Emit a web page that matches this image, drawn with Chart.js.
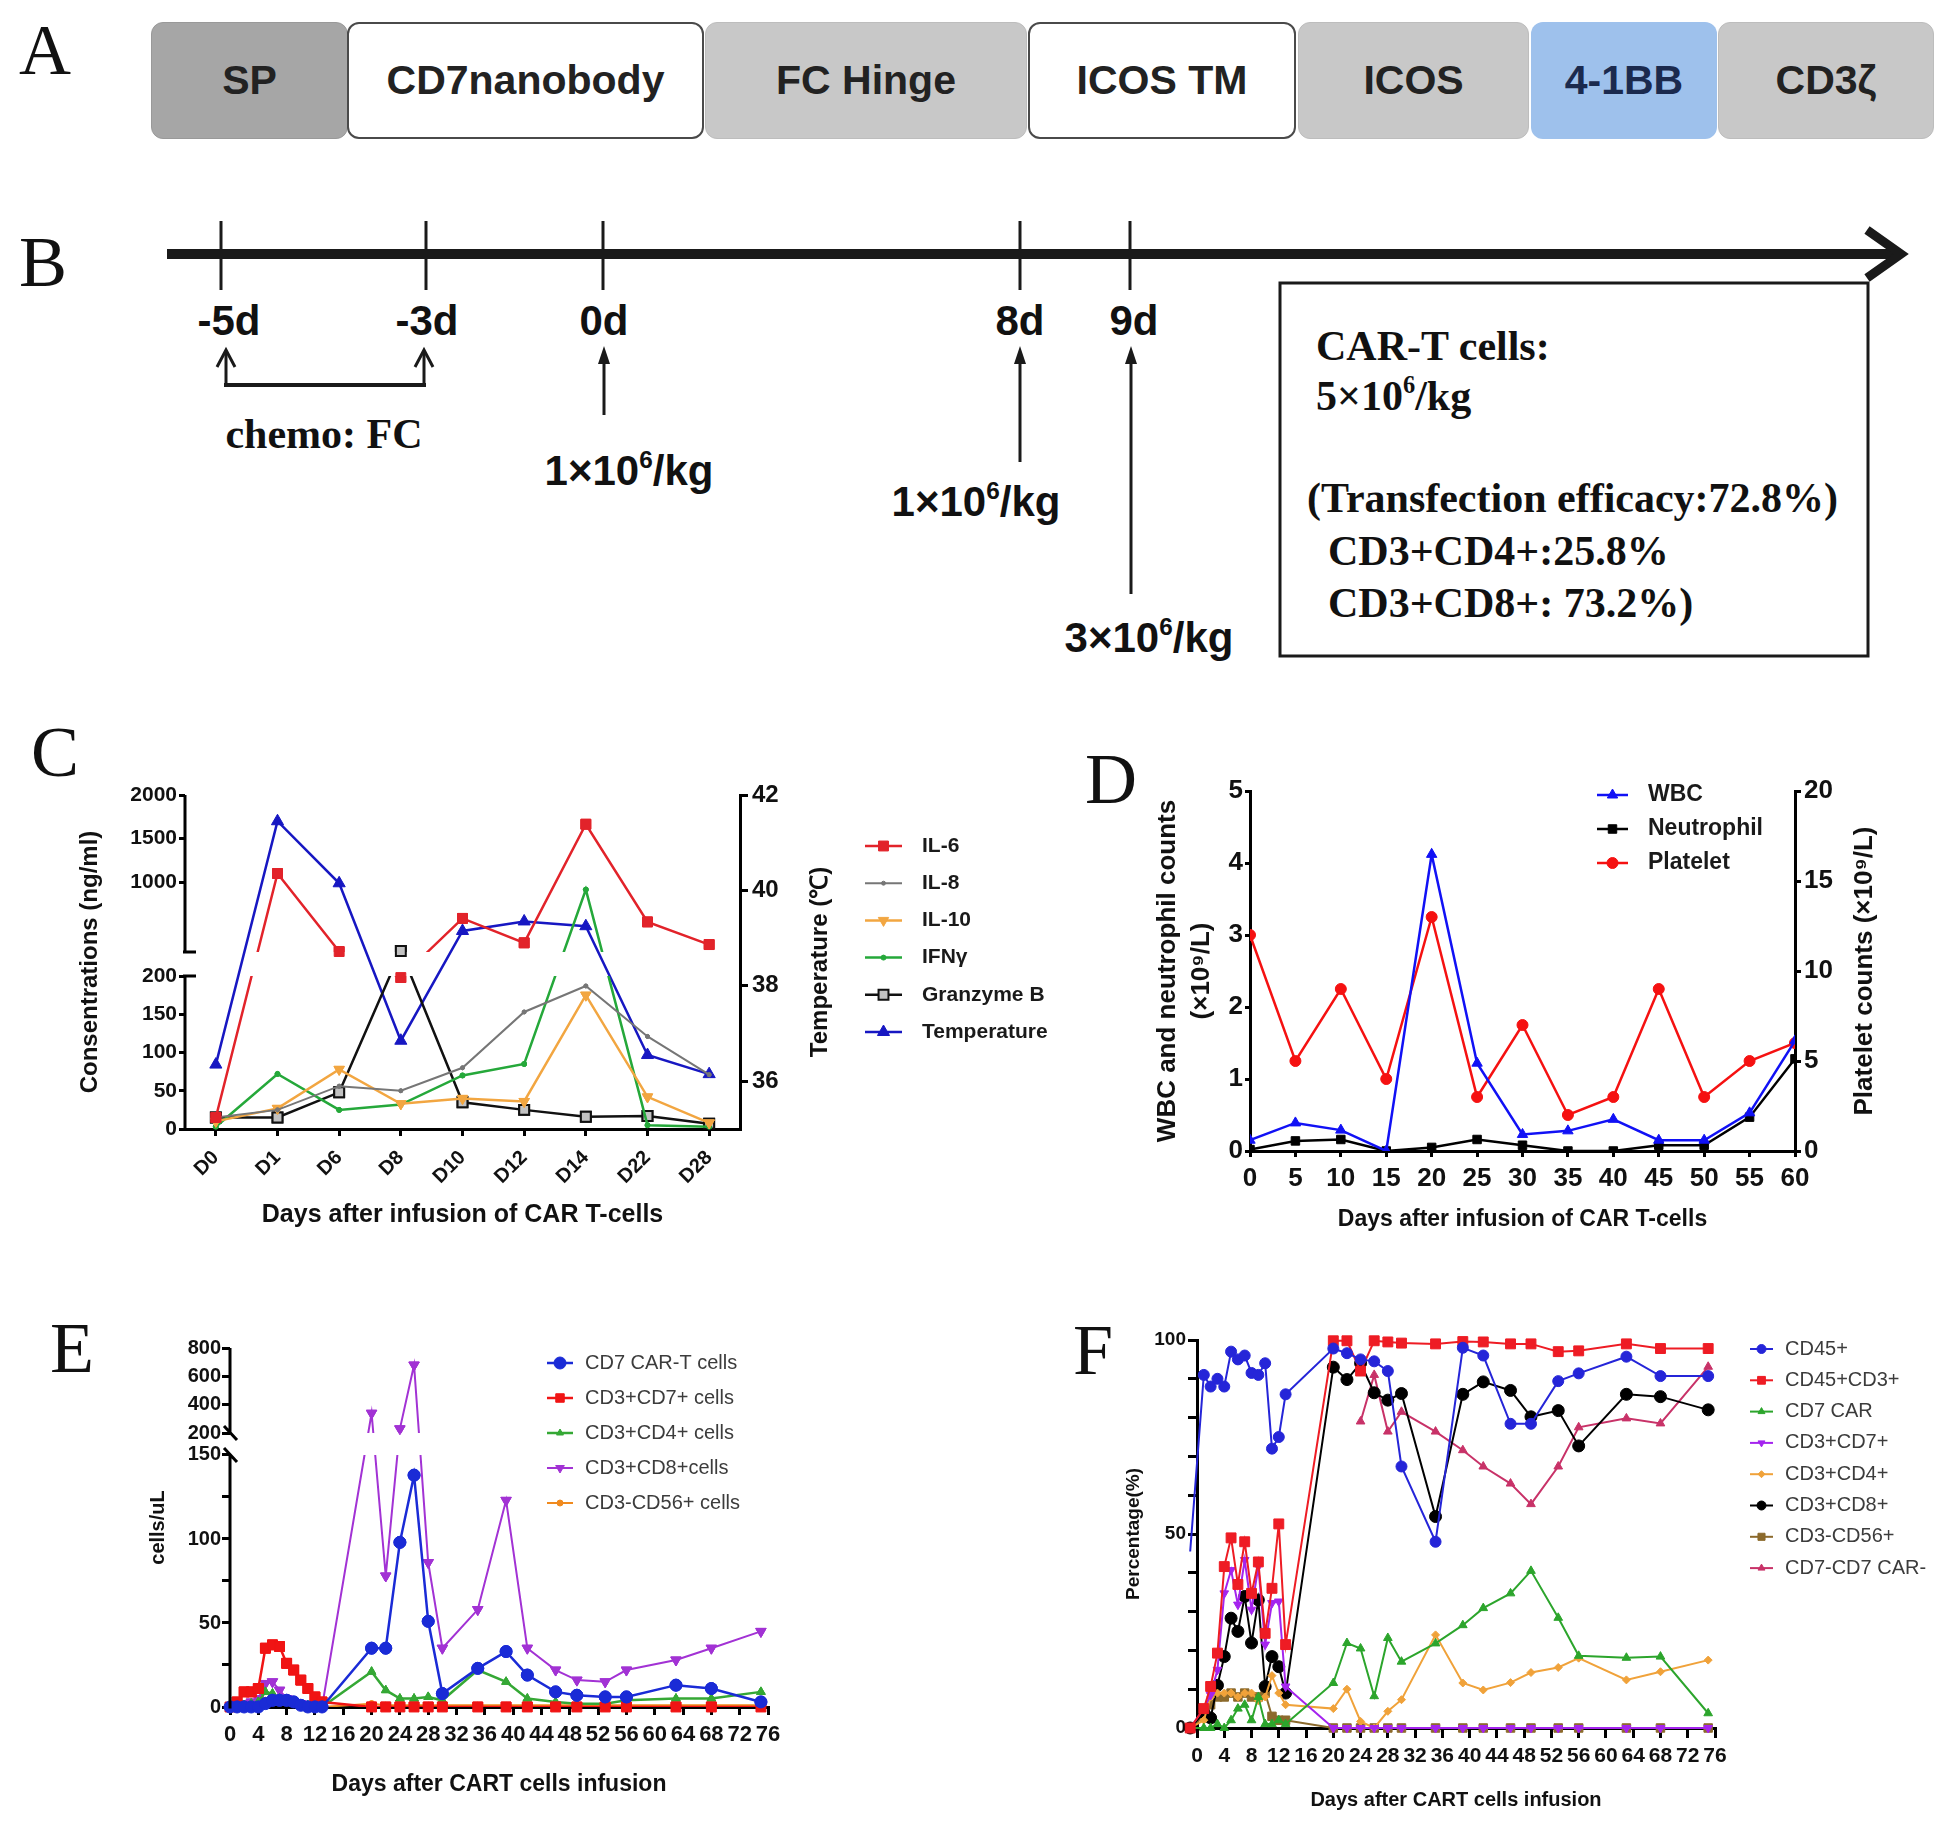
<!DOCTYPE html>
<html>
<head>
<meta charset="utf-8">
<script src="https://cdn.jsdelivr.net/npm/chart.js@4.4.1/dist/chart.umd.min.js"></script>
<style>
  html, body { margin: 0; padding: 0; background: #fff; }
  body { width: 1944px; height: 1825px; position: relative; overflow: hidden;
         font-family: "Liberation Sans", Arial, sans-serif; color: #111; }
  canvas { position: absolute; }
  .letter { position: absolute; font-family: "Liberation Serif", "Times New Roman", serif;
            font-size: 72px; line-height: 1; color: #111; }
  .blk { position: absolute; top: 22px; height: 117px; border-radius: 12px; box-sizing: border-box;
         display: flex; align-items: center; justify-content: center;
         font-weight: bold; font-size: 41px; color: #222; }
  .gray { background: #c8c8c8; border: 1px solid #bdbdbd; }
  .white { background: #fff; border: 2px solid #4a4a4a; }
  .t { position: absolute; transform: translate(-50%, -50%); white-space: nowrap; line-height: 1;
       font-weight: bold; font-size: 42px; }
  .s { position: absolute; transform: translateY(-50%); white-space: nowrap; line-height: 1;
       font-family: "Liberation Serif", "Times New Roman", serif; font-weight: bold; font-size: 42px; }
  .serif { font-family: "Liberation Serif", "Times New Roman", serif; }
  sup { font-size: 58%; position: relative; top: -0.1em; vertical-align: top; }
</style>
</head>
<body>

<!-- A: construct -->
<div class="letter" style="left:19px;top:14px">A</div>
<div class="blk" style="left:151px;width:197px;background:#a6a6a6;border:1px solid #999">SP</div>
<div class="blk white" style="left:347px;width:357px">CD7nanobody</div>
<div class="blk gray" style="left:705px;width:322px">FC Hinge</div>
<div class="blk white" style="left:1028px;width:268px">ICOS TM</div>
<div class="blk gray" style="left:1298px;width:231px">ICOS</div>
<div class="blk" style="left:1531px;width:186px;background:#9ec1ec;color:#1b2a4e">4-1BB</div>
<div class="blk gray" style="left:1718px;width:216px">CD3ζ</div>

<!-- B: timeline -->
<div class="letter" style="left:19px;top:226px">B</div>
<svg style="position:absolute;left:0;top:0" width="1944" height="700">
  <g stroke="#1a1a1a" fill="none">
    <line x1="167" y1="254" x2="1896" y2="254" stroke-width="10"/>
    <polyline points="1867,230 1901,254 1867,278" stroke-width="9"/>
    <g stroke-width="3">
      <line x1="221" y1="221" x2="221" y2="290"/>
      <line x1="426" y1="221" x2="426" y2="290"/>
      <line x1="603" y1="221" x2="603" y2="290"/>
      <line x1="1020" y1="221" x2="1020" y2="290"/>
      <line x1="1130" y1="221" x2="1130" y2="290"/>
      <line x1="226" y1="386" x2="226" y2="351"/>
      <polyline points="217,367 226,350 235,367"/>
      <line x1="424" y1="386" x2="424" y2="351"/>
      <polyline points="415,367 424,350 433,367"/>
      <line x1="604" y1="415" x2="604" y2="356"/>
      <line x1="1020" y1="462" x2="1020" y2="356"/>
      <line x1="1131" y1="594" x2="1131" y2="356"/>
    </g>
    <line x1="224" y1="385" x2="426" y2="385" stroke-width="4"/>
    <rect x="1280" y="283" width="588" height="373" stroke-width="3"/>
  </g>
  <g fill="#1a1a1a">
    <polygon points="598,364 604,346 610,364"/>
    <polygon points="1014,364 1020,346 1026,364"/>
    <polygon points="1125,364 1131,346 1137,364"/>
  </g>
</svg>
<div class="t" style="left:229px;top:321px">-5d</div>
<div class="t" style="left:427px;top:321px">-3d</div>
<div class="t" style="left:604px;top:321px">0d</div>
<div class="t" style="left:1020px;top:321px">8d</div>
<div class="t" style="left:1134px;top:321px">9d</div>
<div class="t serif" style="left:324px;top:434px">chemo: FC</div>
<div class="t" style="left:629px;top:471px">1×10<sup>6</sup>/kg</div>
<div class="t" style="left:976px;top:502px">1×10<sup>6</sup>/kg</div>
<div class="t" style="left:1149px;top:638px">3×10<sup>6</sup>/kg</div>
<div class="s" style="left:1316px;top:346px">CAR-T cells:</div>
<div class="s" style="left:1316px;top:396px">5×10<sup>6</sup>/kg</div>
<div class="s" style="left:1307px;top:498px">(Transfection efficacy:72.8%)</div>
<div class="s" style="left:1328px;top:551px">CD3+CD4+:25.8%</div>
<div class="s" style="left:1328px;top:603px">CD3+CD8+: 73.2%)</div>

<div class="letter" style="left:31px;top:716px">C</div>
<div class="letter" style="left:1085px;top:743px">D</div>
<div class="letter" style="left:50px;top:1312px">E</div>
<div class="letter" style="left:1073px;top:1314px">F</div>

<canvas id="chartC" width="1110" height="540" style="left:0px;top:720px"></canvas>
<canvas id="chartD" width="874" height="540" style="left:1070px;top:720px"></canvas>
<canvas id="chartE" width="1000" height="535" style="left:0px;top:1290px"></canvas>
<canvas id="chartF" width="904" height="535" style="left:1040px;top:1290px"></canvas>

<script>
// ---------- C: cytokines and temperature ----------
const cDays = ['D0', 'D1', 'D6', 'D8', 'D10', 'D12', 'D14', 'D22', 'D28'];
const cIL6 = [15, 1100, 205, 198, 585, 305, 1665, 545, 285];
const cIL8 = [15, 25, 56, 50, 80, 153, 187, 121, 71];
const cIL10 = [10, 27, 78, 33, 40, 36, 175, 42, 8];
const cIFNg = [3, 72, 25, 32, 70, 85, 915, 5, 3];
const cGzmB = [15, 15, 48, 212, 35, 25, 16, 17, 7];
const cTemp = [36.35, 41.45, 40.15, 36.85, 39.15, 39.35, 39.25, 36.55, 36.15];
const cLeftTicks = [0, 50, 100, 150, 200, 1000, 1500, 2000];
const cRightTicks = [36, 38, 40, 42];

// ---------- D: blood counts ----------
const dDays = [0, 5, 10, 15, 20, 25, 30, 35, 40, 45, 50, 55, 60];
const dWBC = [0.15, 0.39, 0.29, 0.0, 4.12, 1.22, 0.23, 0.28, 0.44, 0.15, 0.15, 0.53, 1.53];
const dNeut = [0.02, 0.14, 0.16, 0.0, 0.05, 0.16, 0.08, 0.0, 0.0, 0.08, 0.08, 0.47, 1.28];
const dPlt = [12, 5, 9, 4, 13, 3, 7, 2, 3, 9, 3, 5, 6];
const dXTicks = [0, 5, 10, 15, 20, 25, 30, 35, 40, 45, 50, 55, 60];
const dLeftTicks = [0, 1, 2, 3, 4, 5];
const dRightTicks = [0, 5, 10, 15, 20];

// ---------- E: cell counts ----------
const eDays = [0, 1, 2, 3, 4, 5, 6, 7, 8, 9, 10, 11, 12, 13, 20, 22, 24, 26, 28, 30, 35, 39, 42, 46, 49, 53, 56, 63, 68, 75];
const eCAR = [0, 0, 0, 0, 0, 2, 4, 4, 4, 3, 1, 0, 0, 0, 35, 35, 98, 138, 51, 8, 23, 33, 19, 9, 7, 6, 6, 13, 11, 3];
const eCD7 = [0, 3, 9, 9, 11, 35, 37, 36, 26, 22, 16, 11, 6, 3, 0, 0, 0, 0, 0, 0, 0, 0, 0, 0, 0, 0, 0, 0, 0, 0];
const eCD4 = [0, 0, 1, 2, 3, 9, 8, 5, 3, 2, 1, 1, 0, 0, 21, 10, 5, 5, 6, 4, 22, 15, 5, 3, 2, 2, 4, 5, 5, 9];
const eCD8 = [0, 0, 2, 3, 5, 14, 15, 10, 5, 3, 2, 1, 0, 0, 340, 78, 230, 680, 86, 35, 58, 123, 35, 22, 16, 15, 22, 28, 35, 45];
const eNK = [0, 1, 2, 3, 3, 4, 5, 4, 3, 2, 2, 1, 1, 0, 2, 1, 1, 1, 1, 1, 1, 1, 1, 1, 1, 1, 1, 1, 1, 1];
const eLeftTicks = [0, 25, 50, 75, 100, 125, 150, 200, 400, 600, 800];
const eLeftLabels = [0, 50, 100, 150, 200, 400, 600, 800];
const dayTicks = [0, 4, 8, 12, 16, 20, 24, 28, 32, 36, 40, 44, 48, 52, 56, 60, 64, 68, 72, 76];

// ---------- F: percentages ----------
const fDays = [-1, 1, 2, 3, 4, 5, 6, 7, 8, 9, 10, 11, 12, 13, 20, 22, 24, 26, 28, 30, 35, 39, 42, 46, 49, 53, 56, 63, 68, 75];
const fCD45 = [45.5, 91, 88, 90, 88, 97, 95, 96, 91.5, 91, 94, 72, 75, 86, 97.8, 96.6, 95, 94.5, 92, 67.4, 48, 98, 96, 78.4, 78.4, 89.4, 91.4, 95.7, 90.7, 90.7];
const fCD45CD3 = [0, 5, 10.7, 19.3, 41.6, 49, 37, 48, 34.7, 42.8, 24.4, 36, 52.6, 21.5, 99.8, 99.8, 92, 99.8, 99.5, 99.2, 99, 99.6, 99.5, 99, 99, 97, 97.2, 99, 97.8, 97.8];
const fCAR = [0, 0, 0, 1, 0, 2, 5, 6, 2, 8, 1, 1, 2, 1, 11.6, 21.9, 20.5, 8.2, 23.2, 17.1, 21.8, 26.5, 30.9, 34.7, 40.5, 28.4, 18.6, 18.1, 18.4, 3.8];
const fCD3CD7 = [0, 5, 8.5, 15, 34.7, 40.7, 31.8, 43.3, 30.5, 41.6, 21.5, 32.2, 32.6, 10.7, 0, 0, 0, 0, 0, 0, 0, 0, 0, 0, 0, 0, 0, 0, 0, 0];
const fCD3CD4 = [0, 2, 8, 9, 9, 9, 8, 9, 9, 7, 8, 13.5, 9, 6, 5, 10, 1.7, 0, 4.3, 7.3, 24, 11.6, 9.8, 11.7, 14.3, 15.6, 18, 12.4, 14.5, 17.5];
const fCD3CD8 = [0, 4, 2.6, 11, 18.4, 28.3, 24.9, 33.9, 21.9, 33, 10.7, 18.4, 15.8, 9, 93, 89.8, 94, 86.4, 84.5, 86.2, 54.5, 86, 89.2, 87, 80.2, 81.8, 72.7, 86, 85.4, 82];
const fNK = [0, 3, 6, 8, 8, 9, 8, 9, 8, 8, 9, 3, 2, 2, 0, 0, 0, 0, 0, 0, 0, 0, 0, 0, 0, 0, 0, 0, 0, 0];
const fNeg = [null, null, null, null, null, null, null, null, null, null, null, null, null, null, null, null, 79, 91, 76.4, 81.5, 76.4, 71.6, 67.4, 63, 57.7, 67.4, 77.5, 79.8, 78.5, 93.1];
const fLeftTicks = [0, 10, 20, 30, 40, 50, 60, 70, 80, 90, 100];
const fLeftLabels = [0, 50, 100];

// ---------- helpers ----------
const SANS = '"Liberation Sans", Arial, sans-serif';
const NARROW = '"Liberation Sans Narrow", "Arial Narrow", "Liberation Sans", sans-serif';

const xy = (xs, ys) => xs.map((x, i) => ({x: x, y: ys[i]})).filter(p => p.y !== null);
const setTicks = vals => s => { s.ticks = vals.map(v => ({value: v})); };
const onlyLabels = vals => v => (vals.includes(v) ? String(v) : '');
const plain = v => String(v);
const font = (size, family, weight) => ({family: family || SANS, size: size, weight: weight || 'bold'});
const grid = len => ({drawOnChartArea: false, drawTicks: true, tickLength: len, tickWidth: 3,
                      tickColor: '#000', lineWidth: 3, color: '#000'});
const border = {display: true, color: '#000', width: 3};
const noBorder = {display: false};

// padding so that the plot area lands where it is in the figure
function pad(box, plot, wl, wr, hb) {
  return {left: plot.l - box.x - wl, top: plot.t - box.y,
          right: box.x + box.w - plot.r - wr, bottom: box.y + box.h - plot.b - hb};
}

function series(label, data, color, style, r, extra) {
  return Object.assign({
    label: label, data: data, borderColor: color, backgroundColor: color,
    pointBackgroundColor: color, pointBorderColor: color, pointStyle: style,
    pointRadius: r, pointBorderWidth: 1, borderWidth: 2.5, tension: 0, fill: false
  }, extra || {});
}

// linear scale with a gap in the middle (GraphPad style broken axis)
class BrokenScale extends Chart.LinearScale {
  static id = 'broken';
  static defaults = Chart.LinearScale.defaults;
  _dec(v) {
    const b = this.options.brk;
    if (v <= b.lowMax) return (v - this.min) / (b.lowMax - this.min) * b.lowFrac;
    if (v < b.upMin) return b.lowFrac + (v - b.lowMax) / (b.upMin - b.lowMax) * b.gapFrac;
    return b.lowFrac + b.gapFrac + (v - b.upMin) / (this.max - b.upMin) * (1 - b.lowFrac - b.gapFrac);
  }
  getPixelForValue(v) {
    return v === null || isNaN(v) ? NaN : this.getPixelForDecimal(this._dec(v));
  }
  getValueForPixel(p) {
    const b = this.options.brk;
    const d = this.getDecimalForPixel(p);
    if (d <= b.lowFrac) return this.min + d / b.lowFrac * (b.lowMax - this.min);
    if (d < b.lowFrac + b.gapFrac) return b.lowMax + (d - b.lowFrac) / b.gapFrac * (b.upMin - b.lowMax);
    return b.upMin + (d - b.lowFrac - b.gapFrac) / (1 - b.lowFrac - b.gapFrac) * (this.max - b.upMin);
  }
  lowTop() { return this.getPixelForDecimal(this.options.brk.lowFrac); }
  upBottom() {
    const b = this.options.brk;
    return this.getPixelForDecimal(b.lowFrac + b.gapFrac);
  }
}
Chart.register(BrokenScale);

// hide lines inside the gap, keep the markers whole, draw the broken axis line
const brokenAxis = {
  id: 'brokenAxis',
  beforeDatasetDraw(chart, args) {
    const sc = chart.scales[args.meta.yAxisID];
    if (!(sc instanceof BrokenScale)) return;
    const ctx = chart.ctx;
    const lo = sc.lowTop(), up = sc.upBottom();
    ctx.save();
    ctx.beginPath();
    ctx.rect(0, lo, chart.width, chart.height - lo);
    ctx.rect(0, 0, chart.width, up);
    ctx.clip();
  },
  afterDatasetDraw(chart, args) {
    const sc = chart.scales[args.meta.yAxisID];
    if (!(sc instanceof BrokenScale)) return;
    chart.ctx.restore();
    args.meta.data.forEach(p => p.draw(chart.ctx, chart.chartArea));
  },
  afterDraw(chart) {
    Object.values(chart.scales).forEach(sc => {
      if (!(sc instanceof BrokenScale)) return;
      const ctx = chart.ctx, a = chart.chartArea, b = sc.options.brk;
      const x = sc.right;
      const lo = sc.lowTop(), up = sc.upBottom();
      ctx.save();
      ctx.strokeStyle = '#000';
      ctx.lineWidth = 3;
      ctx.beginPath();
      ctx.moveTo(x, a.bottom + 1.5); ctx.lineTo(x, lo);
      ctx.moveTo(x, up); ctx.lineTo(x, a.top);
      if (b.style === 'cap') {
        ctx.moveTo(x - 2, lo); ctx.lineTo(x + 11, lo);
        ctx.moveTo(x - 2, up); ctx.lineTo(x + 11, up);
      } else {
        [lo, up].forEach(y => { ctx.moveTo(x - 6, y - 7); ctx.lineTo(x + 7, y + 7); });
      }
      ctx.stroke();
      ctx.restore();
    });
  }
};

// legend entries drawn as "line + marker + text"
const lineLegend = {
  id: 'lineLegend',
  afterDraw(chart, args, o) {
    if (!o || !o.font) return;
    const ctx = chart.ctx;
    ctx.save();
    chart.data.datasets.forEach((ds, i) => {
      const y = o.y0 + i * o.dy - o.oy;
      const x1 = o.x1 - o.ox, x2 = o.x2 - o.ox;
      ctx.strokeStyle = ds.borderColor;
      ctx.lineWidth = ds.borderWidth;
      ctx.beginPath(); ctx.moveTo(x1, y); ctx.lineTo(x2, y); ctx.stroke();
      ctx.fillStyle = ds.pointBackgroundColor;
      ctx.strokeStyle = ds.pointBorderColor;
      ctx.lineWidth = ds.pointBorderWidth;
      Chart.helpers.drawPoint(ctx, {pointStyle: ds.pointStyle, rotation: ds.pointRotation || 0,
        radius: ds.legendRadius || ds.pointRadius, borderWidth: ds.pointBorderWidth}, (x1 + x2) / 2, y);
      ctx.fillStyle = o.color;
      ctx.font = o.font;
      ctx.textBaseline = 'middle';
      ctx.fillText(ds.label, o.tx - o.ox, y);
    });
    ctx.restore();
  }
};

// right-hand axis title that reads bottom to top, centred on the plot height
const upTitle = {
  id: 'upTitle',
  afterDraw(chart, args, o) {
    if (!o || !o.text) return;
    const a = chart.chartArea, ctx = chart.ctx;
    ctx.save();
    ctx.translate(o.x - o.ox, (a.top + a.bottom) / 2);
    ctx.rotate(-Math.PI / 2);
    ctx.font = o.font;
    ctx.fillStyle = '#111';
    ctx.textAlign = 'center';
    ctx.textBaseline = 'middle';
    ctx.fillText(o.text, 0, 0);
    ctx.restore();
  }
};

const base = {responsive: false, animation: false, devicePixelRatio: 1,
              events: [], elements: {line: {tension: 0}}};

// ---------- chart C ----------
const cBox = {x: 0, y: 720, w: 1110, h: 540};
const cPlot = {l: 185, t: 795, r: 740, b: 1129};
const cWL = 109.4, cWR = 94.4, cHB = 101;
new Chart(document.getElementById('chartC'), {
  type: 'line',
  data: {
    labels: cDays,
    datasets: [
      series('IL-6', cIL6, '#e2232a', 'rect', 7, {yAxisID: 'y'}),
      series('IL-8', cIL8, '#767676', 'circle', 2, {yAxisID: 'y', borderWidth: 2}),
      series('IL-10', cIL10, '#f2a641', 'triangle', 6, {yAxisID: 'y', pointRotation: 180}),
      series('IFNγ', cIFNg, '#25a83a', 'circle', 2.5, {yAxisID: 'y'}),
      series('Granzyme B', cGzmB, '#111111', 'rect', 7, {yAxisID: 'y', pointBackgroundColor: '#c2c2c2', pointBorderWidth: 2}),
      series('Temperature', cTemp, '#1717c2', 'triangle', 7, {yAxisID: 'y2'})
    ]
  },
  options: Object.assign({}, base, {
    layout: {padding: pad(cBox, cPlot, cWL, cWR, cHB)},
    plugins: {
      legend: {display: false}, tooltip: {enabled: false},
      lineLegend: {ox: cBox.x, oy: cBox.y, x1: 865, x2: 902, tx: 922, y0: 846, dy: 37.2,
                   font: 'bold 21px "Liberation Sans", Arial, sans-serif', color: '#1a1a1a'},
      upTitle: {ox: cBox.x, x: 820, text: 'Temperature (℃)', font: 'bold 24px "Liberation Sans", Arial, sans-serif'}
    },
    scales: {
      x: {
        type: 'category', offset: true, afterFit: s => { s.height = cHB; },
        grid: grid(7), border: border,
        ticks: {minRotation: 45, maxRotation: 45, autoSkip: false, padding: 10, color: '#111', font: font(20)},
        title: {display: true, text: 'Days after infusion of CAR T-cells', color: '#111', font: font(25), padding: 0}
      },
      y: {
        type: 'broken', position: 'left', min: 0, max: 2000,
        brk: {lowMax: 200, upMin: 200, lowFrac: 0.458, gapFrac: 0.072, style: 'cap'},
        afterFit: s => { s.width = cWL; }, afterBuildTicks: setTicks(cLeftTicks),
        grid: grid(6), border: noBorder,
        ticks: {autoSkip: false, padding: 2, color: '#111', font: font(21), callback: plain},
        title: {display: true, text: 'Consentrations (ng/ml)', color: '#111', font: font(24), padding: 0}
      },
      y2: {
        type: 'linear', position: 'right', min: 35, max: 42,
        afterFit: s => { s.width = cWR; }, afterBuildTicks: setTicks(cRightTicks),
        grid: grid(8), border: border,
        ticks: {autoSkip: false, padding: 4, color: '#111', font: font(24), callback: plain},
        title: {display: false}
      }
    }
  }),
  plugins: [brokenAxis, lineLegend, upTitle]
});

// ---------- chart D ----------
const dBox = {x: 1070, y: 720, w: 874, h: 540};
const dPlot = {l: 1250, t: 791, r: 1795, b: 1151};
const dWL = 98.9, dWR = 85.6, dHB = 82.8;
new Chart(document.getElementById('chartD'), {
  type: 'line',
  data: {
    datasets: [
      series('WBC', xy(dDays, dWBC), '#1111f5', 'triangle', 6, {yAxisID: 'y'}),
      series('Neutrophil', xy(dDays, dNeut), '#000000', 'rect', 6, {yAxisID: 'y'}),
      series('Platelet', xy(dDays, dPlt), '#f51111', 'circle', 5.5, {yAxisID: 'y2'})
    ]
  },
  options: Object.assign({}, base, {
    layout: {padding: pad(dBox, dPlot, dWL, dWR, dHB)},
    plugins: {
      legend: {display: false}, tooltip: {enabled: false},
      lineLegend: {ox: dBox.x, oy: dBox.y, x1: 1597, x2: 1628, tx: 1648, y0: 795, dy: 34,
                   font: 'bold 23px ' + NARROW, color: '#1a1a1a'},
      upTitle: {ox: dBox.x, x: 1865, text: 'Platelet counts (×10⁹/L)', font: 'bold 26px ' + NARROW}
    },
    scales: {
      x: {
        type: 'linear', min: 0, max: 60, afterFit: s => { s.height = dHB; },
        afterBuildTicks: setTicks(dXTicks), grid: grid(6), border: border,
        ticks: {autoSkip: false, maxRotation: 0, padding: 6, color: '#111', font: font(26, NARROW), callback: plain},
        title: {display: true, text: 'Days after infusion of CAR T-cells', color: '#111', font: font(23, NARROW), padding: 0}
      },
      y: {
        type: 'linear', position: 'left', min: 0, max: 5,
        afterFit: s => { s.width = dWL; }, afterBuildTicks: setTicks(dLeftTicks),
        grid: grid(5), border: border,
        ticks: {autoSkip: false, padding: 2, color: '#111', font: font(26, NARROW), callback: plain},
        title: {display: true, text: ['WBC and neutrophil counts', '(×10⁹/L)'], color: '#111',
                font: {family: NARROW, size: 26, weight: 'bold', lineHeight: 1.3}, padding: 0}
      },
      y2: {
        type: 'linear', position: 'right', min: 0, max: 20,
        afterFit: s => { s.width = dWR; }, afterBuildTicks: setTicks(dRightTicks),
        grid: grid(6), border: border,
        ticks: {autoSkip: false, padding: 3, color: '#111', font: font(26, NARROW), callback: plain},
        title: {display: false}
      }
    }
  }),
  plugins: [lineLegend, upTitle]
});

// ---------- chart E ----------
const eBox = {x: 0, y: 1290, w: 1000, h: 535};
const ePlot = {l: 230, t: 1348, r: 768, b: 1707};
const eWL = 84, eHB = 91.8;
new Chart(document.getElementById('chartE'), {
  type: 'line',
  data: {
    datasets: [
      series('CD7 CAR-T cells', xy(eDays, eCAR), '#1a2bd6', 'circle', 6, {yAxisID: 'y'}),
      series('CD3+CD7+ cells', xy(eDays, eCD7), '#f01414', 'rect', 7, {yAxisID: 'y', legendRadius: 6}),
      series('CD3+CD4+ cells', xy(eDays, eCD4), '#35a835', 'triangle', 5, {yAxisID: 'y', legendRadius: 4}),
      series('CD3+CD8+cells', xy(eDays, eCD8), '#a232d4', 'triangle', 6, {yAxisID: 'y', pointRotation: 180, borderWidth: 2, legendRadius: 5}),
      series('CD3-CD56+ cells', xy(eDays, eNK), '#f08a1e', 'circle', 3, {yAxisID: 'y', borderWidth: 2})
    ]
  },
  options: Object.assign({}, base, {
    layout: {padding: pad(eBox, ePlot, eWL, 0, eHB)},
    plugins: {
      legend: {display: false}, tooltip: {enabled: false},
      lineLegend: {ox: eBox.x, oy: eBox.y, x1: 547, x2: 573, tx: 585, y0: 1363, dy: 35,
                   font: '20px "Liberation Sans", Arial, sans-serif', color: '#3c3c3c'}
    },
    scales: {
      x: {
        type: 'linear', min: 0, max: 76, afterFit: s => { s.height = eHB; },
        afterBuildTicks: setTicks(dayTicks), grid: grid(8), border: border,
        ticks: {autoSkip: false, maxRotation: 0, padding: 7, color: '#111', font: font(22, NARROW), callback: plain},
        title: {display: true, text: 'Days after CART cells infusion', color: '#111', font: font(23), padding: 0}
      },
      y: {
        type: 'broken', position: 'left', min: 0, max: 800,
        brk: {lowMax: 150, upMin: 200, lowFrac: 0.702, gapFrac: 0.061, style: 'slash'},
        afterFit: s => { s.width = eWL; }, afterBuildTicks: setTicks(eLeftTicks),
        grid: grid(8), border: noBorder,
        ticks: {autoSkip: false, padding: 1, color: '#111', font: font(20), callback: onlyLabels(eLeftLabels)},
        title: {display: true, text: 'cells/uL', color: '#111', font: font(20), padding: 0}
      }
    }
  }),
  plugins: [brokenAxis, lineLegend]
});

// ---------- chart F ----------
const fBox = {x: 1040, y: 1290, w: 904, h: 535};
const fPlot = {l: 1197, t: 1340, r: 1715, b: 1728};
const fWL = 74.4, fHB = 84;
const fExtra = extra => Object.assign({clip: false, borderWidth: 2}, extra || {});
new Chart(document.getElementById('chartF'), {
  type: 'line',
  data: {
    datasets: [
      series('CD45+', xy(fDays, fCD45), '#2525d8', 'circle', 5.5, fExtra({legendRadius: 4.5})),
      series('CD45+CD3+', xy(fDays, fCD45CD3), '#ee1c24', 'rect', 7, fExtra({legendRadius: 5.5})),
      series('CD7 CAR', xy(fDays, fCAR), '#2ca52c', 'triangle', 5, fExtra({legendRadius: 4})),
      series('CD3+CD7+', xy(fDays, fCD3CD7), '#a424ee', 'triangle', 5, fExtra({pointRotation: 180, legendRadius: 4})),
      series('CD3+CD4+', xy(fDays, fCD3CD4), '#f0a23a', 'rectRot', 4, fExtra({legendRadius: 3.5})),
      series('CD3+CD8+', xy(fDays, fCD3CD8), '#000000', 'circle', 6, fExtra({legendRadius: 4.5})),
      series('CD3-CD56+', xy(fDays, fNK), '#8c6a2c', 'rect', 6, fExtra({legendRadius: 5})),
      series('CD7-CD7 CAR-', xy(fDays, fNeg), '#c83268', 'triangle', 5, fExtra({legendRadius: 4}))
    ]
  },
  options: Object.assign({}, base, {
    layout: {padding: pad(fBox, fPlot, fWL, 0, fHB)},
    plugins: {
      legend: {display: false}, tooltip: {enabled: false},
      lineLegend: {ox: fBox.x, oy: fBox.y, x1: 1750, x2: 1773, tx: 1785, y0: 1349, dy: 31.3,
                   font: '20px "Liberation Sans", Arial, sans-serif', color: '#3c3c3c'}
    },
    scales: {
      x: {
        type: 'linear', min: 0, max: 76, afterFit: s => { s.height = fHB; },
        afterBuildTicks: setTicks(dayTicks), grid: grid(10), border: border,
        ticks: {autoSkip: false, maxRotation: 0, padding: 6, color: '#111', font: font(21, NARROW), callback: plain},
        title: {display: true, text: 'Days after CART cells infusion', color: '#111', font: font(20), padding: 0}
      },
      y: {
        type: 'linear', position: 'left', min: 0, max: 100,
        afterFit: s => { s.width = fWL; }, afterBuildTicks: setTicks(fLeftTicks),
        grid: grid(9), border: border,
        ticks: {autoSkip: false, padding: 2, color: '#111', font: font(19), callback: onlyLabels(fLeftLabels)},
        title: {display: true, text: 'Percentage(%)', color: '#111', font: font(19), padding: 0}
      }
    }
  }),
  plugins: [lineLegend]
});
</script>
</body>
</html>
